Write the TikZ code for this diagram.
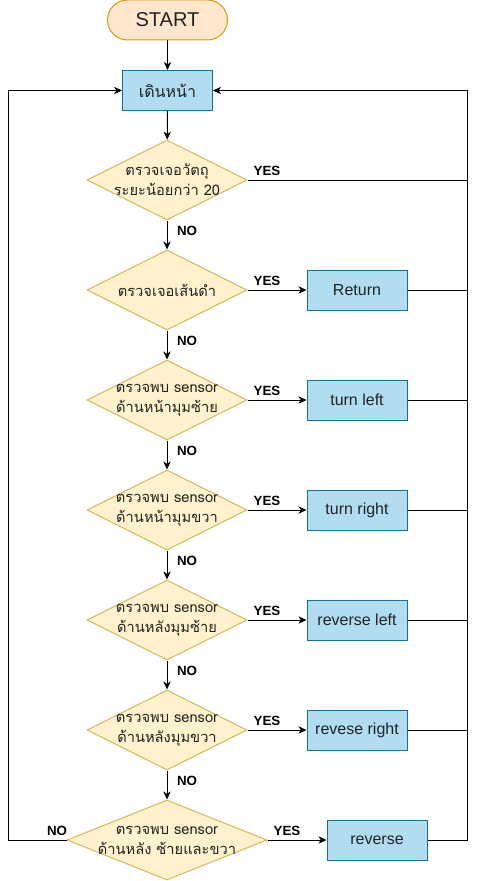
\documentclass[tikz,border=0pt]{standalone}
\usepackage{fontspec}
\setmainfont{Liberation Sans}
\newfontfamily\thaifont[Script=Thai]{Loma}
\usetikzlibrary{shapes.geometric,arrows.meta}
\definecolor{startfill}{HTML}{FFE6CC}
\definecolor{startline}{HTML}{D79B00}
\definecolor{procfill}{HTML}{B1DDF0}
\definecolor{procline}{HTML}{10739E}
\definecolor{decfill}{HTML}{FFF2CC}
\definecolor{decline}{HTML}{D6B656}
\definecolor{txt}{HTML}{222222}
\begin{document}
\begin{tikzpicture}[x=0.75pt,y=-0.75pt,
  startbox/.style={draw=startline, fill=startfill, line width=0.75pt, rounded corners=15pt,
    minimum width=90pt, minimum height=30pt, inner sep=0pt, text=txt,
    font=\fontsize{15}{18}\selectfont},
  procbox/.style={draw=procline, fill=procfill, line width=0.75pt,
    minimum width=75pt, minimum height=30pt, inner sep=0pt, text=txt,
    font=\fontsize{12}{14}\selectfont},
  decision/.style={diamond, draw=decline, fill=decfill, line width=0.75pt,
    minimum width=120pt, minimum height=60pt, inner sep=0pt},
  dtext/.style={align=center, text=txt, inner sep=0pt, font=\thaifont\fontsize{11}{15}\selectfont},
  lab/.style={inner sep=0pt, font=\bfseries\fontsize{10}{12}\selectfont},
  conn/.style={line width=0.75pt, draw=black},
  arr/.style={conn, -{Stealth[length=6pt,width=5.5pt,inset=1.8pt]}}
]
\fill[white] (0,0) rectangle (477,881);
\useasboundingbox (0,0) rectangle (477,881);

\node[startbox] (start) at (167.5,20) {START};
\node[procbox, minimum width=67.5pt, font=\thaifont\fontsize{12}{14}\selectfont] (walk) at (167.5,90.5) {เดินหน้า};

\node[decision] (d1) at (167,180) {};
\node[dtext] (t1) at (d1) {ตรวจเจอวัตถุ\\ระยะน้อยกว่า 20};
\node[decision] (d2) at (167,290) {};
\node[dtext] (t2) at (d2) {ตรวจเจอเส้นดำ};
\node[decision] (d3) at (167,400) {};
\node[dtext] (t3) at (d3) {ตรวจพบ sensor\\ด้านหน้ามุมซ้าย};
\node[decision] (d4) at (167,510) {};
\node[dtext] (t4) at (d4) {ตรวจพบ sensor\\ด้านหน้ามุมขวา};
\node[decision] (d5) at (167,620) {};
\node[dtext] (t5) at (d5) {ตรวจพบ sensor\\ด้านหลังมุมซ้าย};
\node[decision] (d6) at (167,730) {};
\node[dtext] (t6) at (d6) {ตรวจพบ sensor\\ด้านหลังมุมขวา};
\node[decision, minimum width=150pt] (d7) at (167,840) {};
\node[dtext] (t7) at (d7) {ตรวจพบ sensor\\ด้านหลัง ซ้ายและขวา};

\node[procbox] (b2) at (357,290) {Return};
\node[procbox] (b3) at (357,400) {turn left};
\node[procbox] (b4) at (357,510) {turn right};
\node[procbox] (b5) at (357,620) {reverse left};
\node[procbox] (b6) at (357,730) {revese right};
\node[procbox] (b7) at (377,840) {reverse};

\coordinate (R) at (467,840);
\coordinate (L) at (8,840);

% vertical flow
\draw[arr] (start) -- (walk);
\draw[arr] (walk) -- (d1);
\draw[arr] (d1) -- (d2);
\draw[arr] (d2) -- (d3);
\draw[arr] (d3) -- (d4);
\draw[arr] (d4) -- (d5);
\draw[arr] (d5) -- (d6);
\draw[arr] (d6) -- (d7);

% yes branches
\draw[conn] (d1.east) -- (d1.east -| R);
\draw[arr] (d2.east) -- (b2);
\draw[arr] (d3.east) -- (b3);
\draw[arr] (d4.east) -- (b4);
\draw[arr] (d5.east) -- (b5);
\draw[arr] (d6.east) -- (b6);
\draw[arr] (d7.east) -- (b7);

% return lines
\draw[conn] (b2.east) -- (b2.east -| R);
\draw[conn] (b3.east) -- (b3.east -| R);
\draw[conn] (b4.east) -- (b4.east -| R);
\draw[conn] (b5.east) -- (b5.east -| R);
\draw[conn] (b6.east) -- (b6.east -| R);
\draw[arr] (b7.east) -- (R) |- (walk.east);
\draw[arr] (d7.west) -- (L) |- (walk.west);

% labels
\node[lab] (y1) at (267,171) {YES};
\node[lab] (y2) at (267,281) {YES};
\node[lab] (y3) at (267,391) {YES};
\node[lab] (y4) at (267,501) {YES};
\node[lab] (y5) at (267,611) {YES};
\node[lab] (y6) at (267,721) {YES};
\node[lab] (y7) at (287,831) {YES};
\node[lab] (n1) at (187,231) {NO};
\node[lab] (n2) at (187,341) {NO};
\node[lab] (n3) at (187,451) {NO};
\node[lab] (n4) at (187,561) {NO};
\node[lab] (n5) at (187,671) {NO};
\node[lab] (n6) at (187,781) {NO};
\node[lab] (n7) at (57,831) {NO};
\end{tikzpicture}
\end{document}
